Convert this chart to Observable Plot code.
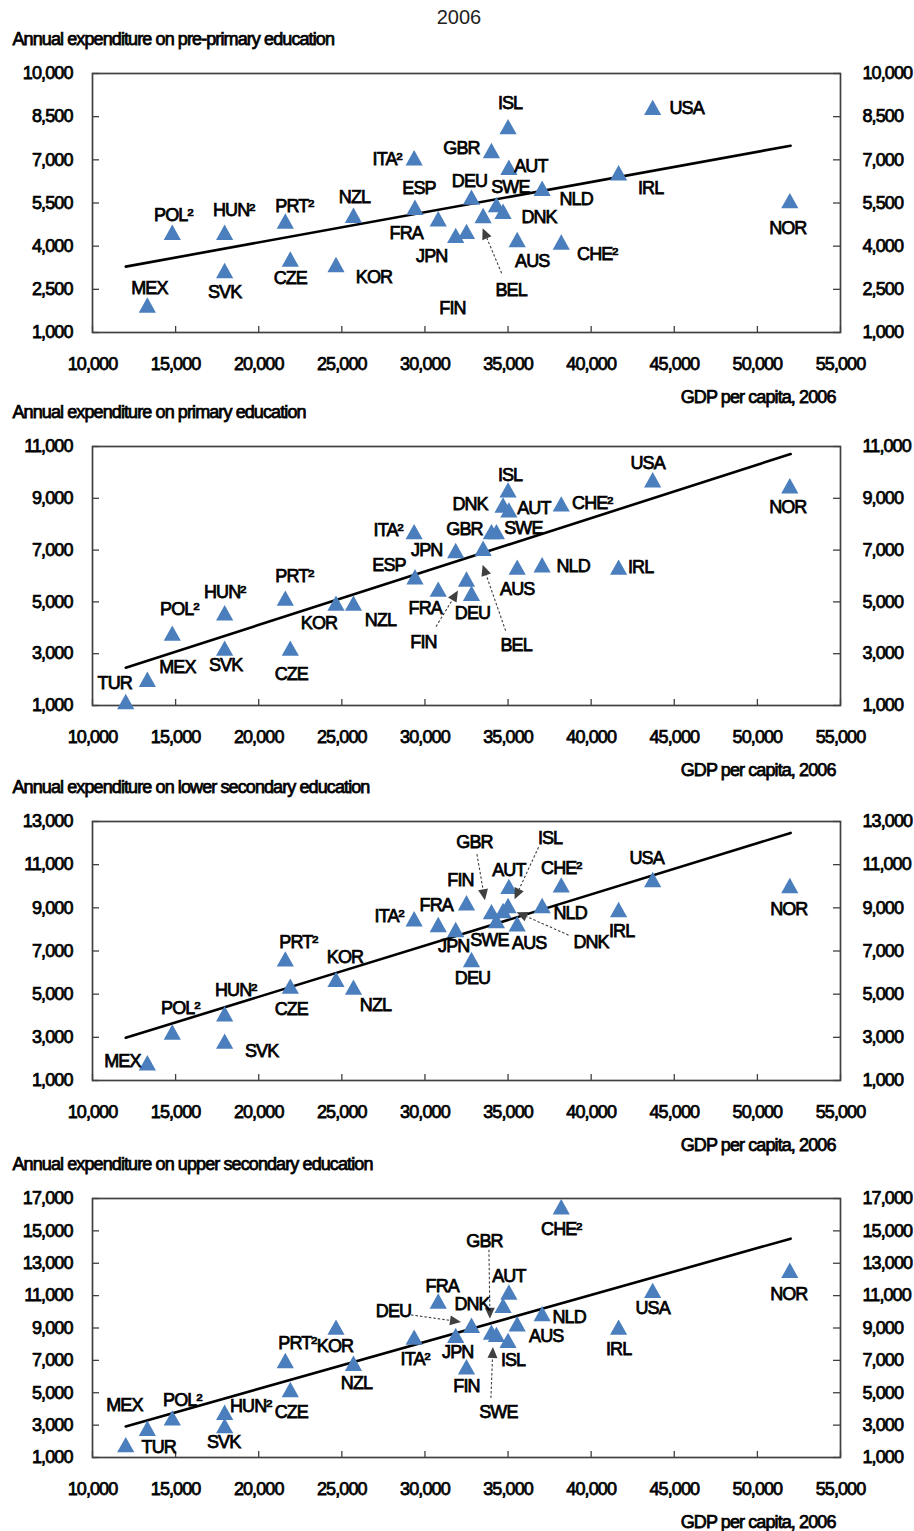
<!DOCTYPE html>
<html>
<head>
<meta charset="utf-8">
<script src="https://cdn.jsdelivr.net/npm/d3@7"></script>
<script src="https://cdn.jsdelivr.net/npm/@observablehq/plot@0.6"></script>
<style>
  html, body { margin: 0; padding: 0; background: #fff; overflow: hidden; }
  #root { position: relative; width: 914px; height: 1531px; font-family: "Liberation Sans", Arial, sans-serif; }
  #title { position: absolute; left: 0; top: 6px; width: 918px; text-align: center; font-size: 20px; color: #222; }
  .panel { position: absolute; left: 0; }
  .panel svg text { letter-spacing: -0.9px; stroke: #000; stroke-width: 0.75px; }
</style>
</head>
<body>
<div id="root"><div id="title">2006</div></div>
<script>
// ---------------- data ----------------
const codes = ["TUR","MEX","POL","HUN","SVK","PRT","CZE","KOR","NZL","ITA","ESP","FRA","JPN","FIN","DEU","BEL","GBR","SWE","DNK","ISL","AUT","AUS","NLD","CHE","IRL","USA","NOR"];
const names = ["TUR","MEX","POL²","HUN²","SVK","PRT²","CZE","KOR","NZL","ITA²","ESP","FRA","JPN","FIN","DEU","BEL","GBR","SWE","DNK","ISL","AUT","AUS","NLD","CHE²","IRL","USA","NOR"];
const gdp = [12000,13300,14800,17950,17950,21600,21900,24650,25700,29350,29400,30800,31850,32500,32800,33500,34000,34300,34700,35000,35050,35550,37050,38200,41650,43700,51950];

const prePrimary     = [null,1950,4480,4480,3150,4870,3550,3360,5070,7070,5350,4950,4370,4510,5700,5060,7320,5440,5210,8150,6740,4230,6010,4140,6550,8820,5580];
const primary        = [1150,2010,3790,4580,3210,5140,3210,4950,4950,7710,5970,5490,6980,5880,5330,7070,7710,7710,8740,9320,8550,6340,6430,8780,6340,9710,9480];
const lowerSecondary = [null,1820,3240,4090,2820,6630,5370,5680,5320,8490,null,8220,7990,9230,6600,null,8820,8410,8870,9100,9990,8260,9100,10060,8920,10310,10030];
const upperSecondary = [1790,2800,3440,3790,2960,6990,5190,9050,6820,8430,null,10660,8540,6600,9160,null,8740,8600,10390,8230,11220,9260,9880,16480,9050,11320,12560];

const trendGdp = [12000, 52000];
const trend1 = [3290, 7490];
const trend2 = [2460, 10710];
const trend3 = [2980, 12470];
const trend4 = [2920, 14520];

const xTicks = [10000,15000,20000,25000,30000,35000,40000,45000,50000,55000];
const yTicks1 = [1000,2500,4000,5500,7000,8500,10000];
const yTicks2 = [1000,3000,5000,7000,9000,11000];
const yTicks3 = [1000,3000,5000,7000,9000,11000,13000];
const yTicks4 = [1000,3000,5000,7000,9000,11000,13000,15000,17000];

const subtitles = [
  "Annual expenditure on pre-primary education",
  "Annual expenditure on primary education",
  "Annual expenditure on lower secondary education",
  "Annual expenditure on upper secondary education"
];
const xLabel = "GDP per capita, 2006";

// ---------------- label placement (pixel offsets from marker) ----------------
const place1 = {MEX:[2,-17],POL:[1,-17],HUN:[9,-22],SVK:[0,22],PRT:[9,-15],CZE:[0,19],KOR:[38,13],NZL:[1,-18],ITA:[-27,1],ESP:[4,-19],FRA:[-32,14],JPN:[-24,21],FIN:[-14,77],DEU:[-2,-16],BEL:[28,75],GBR:[-30,-2],ISL:[2,-24],AUT:[22,-1],SWE:[14,-17],DNK:[36,6],NLD:[34,11],AUS:[15,22],CHE:[36,12],IRL:[32,15],USA:[34,1],NOR:[-2,28]};
const arrows1 = {BEL:[19,58,0,13]};
const place2 = {TUR:[-11,-18],MEX:[30,-12],POL:[7,-24],HUN:[0,-21],SVK:[1,17],PRT:[9,-22],CZE:[1,26],KOR:[-17,20],NZL:[27,17],ITA:[-26,-1],ESP:[-26,-12],FRA:[-13,19],JPN:[-29,0],FIN:[-43,63],DEU:[1,20],BEL:[33,97],GBR:[-27,-2],SWE:[27,-3],DNK:[-33,-1],ISL:[2,-15],AUT:[25,-2],AUS:[0,22],NLD:[31,1],CHE:[31,-1],IRL:[22,0],USA:[-5,-17],NOR:[-2,21]};
const arrows2 = {FIN:[-30,48,-8,12], BEL:[23,83,0,17]};
const place3 = {MEX:[-25,-2],POL:[8,-24],HUN:[11,-24],SVK:[37,10],PRT:[13,-17],CZE:[1,23],KOR:[9,-22],NZL:[22,18],ITA:[-25,-3],FRA:[-2,-19],FIN:[-6,-23],JPN:[-2,17],DEU:[1,19],GBR:[-17,-69],SWE:[-7,20],AUT:[0,-16],ISL:[42,-67],DNK:[88,32],AUS:[12,19],NLD:[28,8],CHE:[0,-17],IRL:[3,22],USA:[-6,-21],NOR:[-1,24]};
const arrows3 = {GBR:[-14,-57,-6,-11], ISL:[31,-58,7,-6], DNK:[66,25,14,2]};
const place4 = {TUR:[33,3],MEX:[-23,-23],POL:[10,-18],HUN:[26,-6],SVK:[-1,16],PRT:[12,-17],CZE:[1,23],KOR:[-1,19],NZL:[3,20],ITA:[1,22],FRA:[4,-15],JPN:[2,17],FIN:[0,19],DEU:[-78,-14],DNK:[-31,-1],GBR:[-7,-91],SWE:[2,78],AUT:[0,-16],ISL:[5,20],AUS:[29,12],NLD:[27,3],CHE:[0,22],IRL:[0,22],USA:[0,18],NOR:[-1,24]};
const arrows4 = {DEU:[-60,-10,-10,-3], GBR:[-2,-82,-1,-13], SWE:[-5,64,-3,13]};

// ---------------- drawing ----------------
const W = 914, ML = 92, MR = 74, MT = 50, MB = 75, FH = 259;
const frameTops = [73, 446, 821, 1198];
const blue = "#4a7ebd", grey = "#404040";

const triangle = {
  draw(ctx) {
    ctx.moveTo(0, -7.8);
    ctx.lineTo(8.6, 7.6);
    ctx.lineTo(-8.6, 7.6);
    ctx.closePath();
  }
};

function arrowMark(rows, arrows) {
  return (index, scales) => {
    const g = d3.create("svg:g");
    for (const r of rows) {
      const a = arrows[r.code];
      if (!a) continue;
      const cx = scales.x(r.gdp), cy = scales.y(r.v);
      const x1 = cx + a[0], y1 = cy + a[1], x2 = cx + a[2], y2 = cy + a[3];
      const ang = Math.atan2(y2 - y1, x2 - x1);
      const L = 11, Hw = 5;
      const bx = x2 - L * Math.cos(ang), by = y2 - L * Math.sin(ang);
      const s = Math.sin(ang), c = Math.cos(ang);
      g.append("line")
        .attr("x1", x1).attr("y1", y1).attr("x2", bx).attr("y2", by)
        .attr("stroke", grey).attr("stroke-width", 1.1).attr("stroke-dasharray", "2.5,2");
      g.append("path")
        .attr("d", `M${x2},${y2}L${bx + Hw * s},${by - Hw * c}L${bx - Hw * s},${by + Hw * c}Z`)
        .attr("fill", grey);
    }
    return g.node();
  };
}

const panels = [
  {values: prePrimary, yTicks: yTicks1, trend: trend1, place: place1, arrows: arrows1},
  {values: primary, yTicks: yTicks2, trend: trend2, place: place2, arrows: arrows2},
  {values: lowerSecondary, yTicks: yTicks3, trend: trend3, place: place3, arrows: arrows3},
  {values: upperSecondary, yTicks: yTicks4, trend: trend4, place: place4, arrows: arrows4}
];

const root = document.getElementById("root");
const fmt = d3.format(",");

panels.forEach((p, k) => {
  const rows = codes.map((c, i) => ({code: c, name: names[i], gdp: gdp[i], v: p.values[i]}))
                    .filter(d => d.v != null);
  const trendRows = trendGdp.map((g, i) => ({gdp: g, v: p.trend[i]}));
  const yMin = p.yTicks[0], yMax = p.yTicks[p.yTicks.length - 1];
  const fw = W - ML - MR;

  const labelMarks = rows.filter(d => p.place[d.code]).map(d => Plot.text([d], {
    x: "gdp", y: "v", text: "name",
    dx: p.place[d.code][0], dy: p.place[d.code][1],
    fill: "#000"
  }));

  const chart = Plot.plot({
    width: W,
    height: MT + FH + MB,
    marginLeft: ML, marginRight: MR, marginTop: MT, marginBottom: MB,
    style: {fontFamily: "'Liberation Sans', Arial, sans-serif", fontSize: "18px", background: "transparent", overflow: "visible", color: "#000"},
    x: {domain: [10000, 55000], axis: null},
    y: {domain: [yMin, yMax], axis: null},
    marks: [
      Plot.frame({stroke: grey, strokeWidth: 1.7}),
      Plot.tickY(p.yTicks, {y: d => d, insetRight: fw - 7, stroke: grey, strokeWidth: 1.3}),
      Plot.tickY(p.yTicks, {y: d => d, insetLeft: fw - 7, stroke: grey, strokeWidth: 1.3}),
      Plot.tickX(xTicks, {x: d => d, insetTop: FH - 6, stroke: grey, strokeWidth: 1.3}),
      Plot.axisX(xTicks, {tickSize: 0, tickPadding: 25, tickFormat: fmt, label: null}),
      Plot.axisY(p.yTicks, {anchor: "left", tickSize: 0, tickPadding: 20, tickFormat: fmt, label: null}),
      Plot.axisY(p.yTicks, {anchor: "right", tickSize: 0, tickPadding: 22, tickFormat: fmt, label: null}),
      Plot.line(trendRows, {x: "gdp", y: "v", stroke: "#000", strokeWidth: 2.6}),
      Plot.dot(rows, {x: "gdp", y: "v", symbol: triangle, r: 6, fill: blue, stroke: "none"}),
      arrowMark(rows, p.arrows),
      ...labelMarks,
      Plot.text([subtitles[k]], {text: d => d, frameAnchor: "top-left", lineAnchor: "middle", textAnchor: "start", dx: 12 - ML, dy: -34.5, fill: "#000"}),
      Plot.text([xLabel], {text: d => d, frameAnchor: "bottom-right", lineAnchor: "middle", textAnchor: "end", dx: -5, dy: 64.5, fill: "#000"})
    ]
  });

  const div = document.createElement("div");
  div.className = "panel";
  div.style.top = (frameTops[k] - MT) + "px";
  div.appendChild(chart);
  root.appendChild(div);
});
</script>
</body>
</html>
